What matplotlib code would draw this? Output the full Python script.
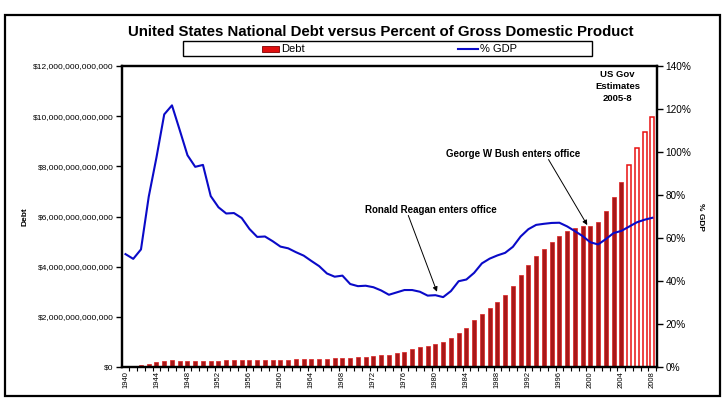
import numpy as np
import matplotlib
matplotlib.use("Agg")
from matplotlib import pyplot as plt
from matplotlib.patches import Rectangle
from matplotlib.lines import Line2D
from matplotlib.ticker import FuncFormatter, MultipleLocator

plt.rcParams["font.family"] = ["Liberation Sans", "DejaVu Sans"]

# data
years = list(range(1940, 2009))
debt_trillions = [
    0.043, 0.049, 0.072, 0.137, 0.200, 0.259, 0.269, 0.258, 0.252, 0.253,
    0.257, 0.255, 0.259, 0.266, 0.271, 0.274, 0.273, 0.272, 0.280, 0.287,
    0.291, 0.293, 0.303, 0.310, 0.316, 0.322, 0.328, 0.341, 0.370, 0.366,
    0.381, 0.408, 0.436, 0.466, 0.484, 0.542, 0.610, 0.710, 0.780, 0.830,
    0.910, 1.000, 1.140, 1.370, 1.560, 1.880, 2.110, 2.340, 2.580, 2.860,
    3.230, 3.660, 4.060, 4.430, 4.690, 4.970, 5.210, 5.420, 5.530, 5.620,
    5.630, 5.780, 6.230, 6.780, 7.380, 8.050, 8.720, 9.360, 9.970,
]
pct_gdp = [
    52.5, 50.3, 54.7, 79.2, 97.5, 117.5, 121.7, 110.2, 98.5, 93.1,
    94.0, 79.5, 74.3, 71.4, 71.6, 69.3, 64.2, 60.5, 60.7, 58.5,
    56.0, 55.2, 53.4, 51.8, 49.3, 46.9, 43.5, 42.0, 42.5, 38.6,
    37.6, 37.8, 37.1, 35.6, 33.6, 34.7, 35.8, 35.8, 35.0, 33.2,
    33.4, 32.5, 35.3, 39.9, 40.7, 43.8, 48.2, 50.4, 51.9, 53.1,
    55.9, 60.7, 64.1, 66.1, 66.6, 67.0, 67.1, 65.4, 63.2, 60.9,
    58.0, 57.0, 59.5, 62.3, 63.3, 65.3, 67.3, 68.5, 69.4,
]
estimate_start = 2005

years = np.array(years)
debt = np.array(debt_trillions) * 1e12
hist = years < estimate_start
est = ~hist

fig = plt.figure(figsize=(7.22, 3.99), dpi=100)
W, H = 722, 399
ax = fig.add_axes([122 / W, 1 - 367 / H, 535 / W, 301 / H])
ax2 = ax.twinx()

# bars
ax.bar(years[hist], debt[hist], width=0.52, color="#A81818",
       edgecolor="#DC2020", linewidth=0.5, zorder=2)
ax.bar(years[est], debt[est], width=0.52, color="white",
       edgecolor="#E81010", linewidth=1.1, zorder=2)

# % GDP line
ax2.plot(years, pct_gdp, color="#0A0AC8", linewidth=1.5, zorder=3)

ax.set_xlim(1939.55, 2008.6)
ax.set_ylim(0, 12e12)
ax2.set_ylim(0, 140)

ax.set_xticks(years[::4])
ax.set_xticklabels([str(y) for y in years[::4]], rotation=90, fontsize=5.5)
ax.xaxis.set_minor_locator(plt.FixedLocator(np.arange(1939.5, 2009, 1)))
ax.tick_params(axis="x", which="major", length=0, pad=3)
ax.tick_params(axis="x", which="minor", length=3, width=0.8, direction="out")

ax.yaxis.set_major_locator(MultipleLocator(2e12))
ax.yaxis.set_major_formatter(FuncFormatter(lambda v, p: "${:,.0f}".format(v)))
ax.tick_params(axis="y", labelsize=6, length=4, width=1, pad=2)

ax2.yaxis.set_major_locator(MultipleLocator(20))
ax2.yaxis.set_major_formatter(FuncFormatter(lambda v, p: "{:.0f}%".format(v)))
ax2.tick_params(axis="y", labelsize=7.2, length=4, width=1, pad=2)

for a in (ax, ax2):
    for s in a.spines.values():
        s.set_linewidth(1.6)

ax.set_ylabel("Debt", fontsize=6, fontweight="bold", labelpad=0)
ax.yaxis.set_label_coords(-0.175, 0.5)
ax2.set_ylabel("% GDP", fontsize=6, fontweight="bold", rotation=270, labelpad=0)
ax2.yaxis.set_label_coords(1.088, 0.5)

# annotations
arrow = dict(arrowstyle="-|>", color="black", lw=0.7, mutation_scale=7,
             shrinkA=0, shrinkB=0)
ax2.text(1979.4, 73.0, "Ronald Reagan enters office", fontsize=7, fontweight="bold",
         ha="center", va="center")
ax2.annotate("", xy=(1980.2, 35.0), xytext=(1976.5, 70.5), arrowprops=arrow)
ax2.text(1990.0, 99.2, "George W Bush enters office", fontsize=7, fontweight="bold",
         ha="center", va="center")
ax2.annotate("", xy=(1999.6, 66.0), xytext=(1994.6, 96.5), arrowprops=arrow)
ax2.text(2003.5, 138.3, "US Gov\nEstimates\n2005-8", fontsize=6.8, fontweight="bold",
         ha="center", va="top", linespacing=1.45)

# title
fig.text(381 / W, 1 - 32 / H, "United States National Debt versus Percent of Gross Domestic Product",
         ha="center", va="center", fontsize=10.8, fontweight="bold")

# legend box
fig.add_artist(Rectangle((183 / W, 1 - 56 / H), 409 / W, 15 / H, transform=fig.transFigure,
                         facecolor="white", edgecolor="black", linewidth=1.0))
fig.add_artist(Rectangle((262 / W, 1 - 51.5 / H), 17 / W, 6 / H, transform=fig.transFigure,
                         facecolor="#E01010", edgecolor="#800000", linewidth=0.6))
fig.text(281 / W, 1 - 48.5 / H, "Debt", fontsize=8, ha="left", va="center")
fig.add_artist(Line2D([458 / W, 478 / W], [1 - 48.5 / H, 1 - 48.5 / H],
                      transform=fig.transFigure, color="#0A0AC8", linewidth=1.5))
fig.text(480 / W, 1 - 48.5 / H, "% GDP", fontsize=8, ha="left", va="center")

# outer frame
fig.add_artist(Rectangle((5 / W, 1 - 396 / H), 715 / W, 381 / H, transform=fig.transFigure,
                         facecolor="none", edgecolor="black", linewidth=1.6))

fig.savefig("out.png", dpi=100)
